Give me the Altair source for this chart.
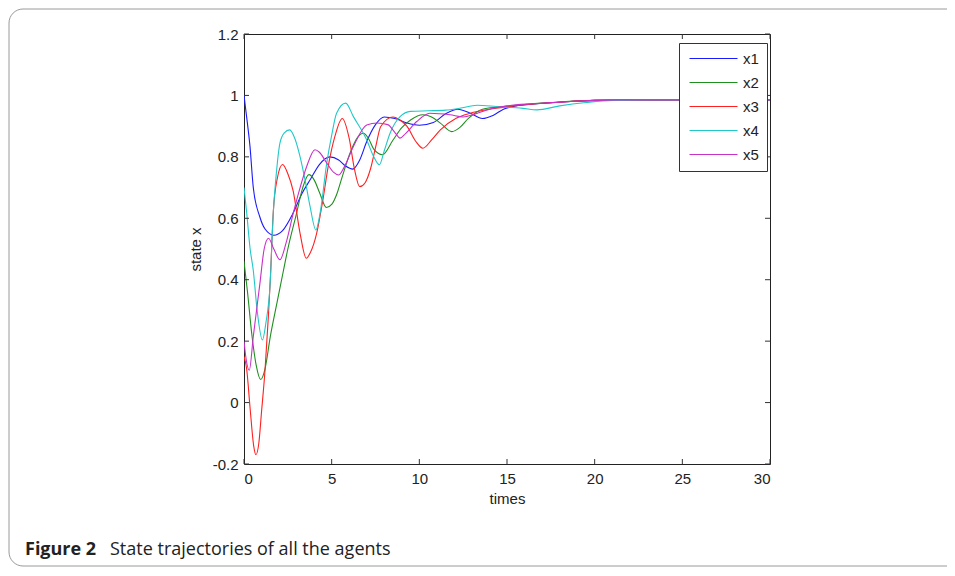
import altair as alt
import pandas as pd

series_names = ["x1", "x2", "x3", "x4", "x5"]
series_colors = ["#1a1aff", "#1f8f1f", "#ff2020", "#20c8c8", "#c830c8"]

t_x1 = [0, 0.15, 0.34, 0.53, 0.9, 1.2, 1.7, 2.2, 2.8, 3.3, 3.8, 4.3, 4.9, 5.4, 5.8, 6.2, 6.6, 7.0, 7.5, 8.0, 8.6, 9.3, 10.0, 10.8, 11.5, 12.2, 12.9, 13.6, 14.2, 14.8, 15.5, 16.5, 18, 20, 22, 30]
v_x1 = [1.0, 0.93, 0.835, 0.70, 0.605, 0.565, 0.545, 0.56, 0.617, 0.68, 0.728, 0.775, 0.80, 0.79, 0.77, 0.76, 0.79, 0.85, 0.905, 0.93, 0.925, 0.91, 0.903, 0.912, 0.94, 0.955, 0.942, 0.925, 0.935, 0.955, 0.966, 0.972, 0.978, 0.984, 0.985, 0.985]

t_x2 = [0, 0.2, 0.45, 0.7, 0.95, 1.2, 1.5, 1.9, 2.25, 2.5, 3.0, 3.35, 3.7, 4.0, 4.3, 4.7, 5.0, 5.3, 5.6, 6.1, 6.5, 6.8, 7.1, 7.4, 7.9, 8.5, 9.0, 9.5, 10.2, 10.7, 11.2, 11.85, 12.3, 12.8, 13.6, 14.5, 15.5, 17, 19, 21, 30]
v_x2 = [0.46, 0.36, 0.22, 0.12, 0.075, 0.11, 0.215, 0.33, 0.43, 0.50, 0.617, 0.70, 0.742, 0.725, 0.685, 0.635, 0.645, 0.68, 0.735, 0.82, 0.865, 0.877, 0.86, 0.825, 0.807, 0.855, 0.895, 0.92, 0.937, 0.93, 0.91, 0.882, 0.895, 0.925, 0.955, 0.962, 0.968, 0.975, 0.982, 0.985, 0.985]

t_x3 = [0, 0.15, 0.35, 0.55, 0.68, 0.85, 1.0, 1.2, 1.39, 1.5, 1.67, 1.9, 2.2, 2.5, 2.8, 3.2, 3.55, 3.8, 4.14, 4.5, 4.8, 5.2, 5.6, 6.0, 6.3, 6.6, 6.9, 7.2, 7.5, 7.8, 8.5, 8.9, 9.3, 9.8, 10.2, 10.7, 11.2, 12.1, 12.9, 14, 15, 16.5, 18, 20, 22, 30]
v_x3 = [0.15, 0.11, -0.02, -0.14, -0.17, -0.13, -0.03, 0.106, 0.28, 0.40, 0.62, 0.73, 0.775, 0.745, 0.69, 0.55, 0.47, 0.49, 0.55, 0.66, 0.768, 0.87, 0.925, 0.86, 0.76, 0.703, 0.715, 0.758, 0.83, 0.899, 0.93, 0.92, 0.899, 0.85, 0.828, 0.855, 0.888, 0.926, 0.942, 0.955, 0.963, 0.972, 0.978, 0.984, 0.985, 0.985]

t_x4 = [0, 0.15, 0.35, 0.53, 0.75, 1.05, 1.25, 1.48, 1.67, 1.85, 2.05, 2.3, 2.6, 2.9, 3.2, 3.5, 3.77, 4.1, 4.35, 4.72, 5.0, 5.28, 5.8, 6.24, 7.0, 7.4, 7.72, 8.0, 8.33, 8.9, 9.5, 10.5, 11.5, 12.3, 13.3, 14.4, 15.9, 16.7, 18, 19.5, 21, 23, 30]
v_x4 = [0.70, 0.62, 0.50, 0.43, 0.30, 0.204, 0.26, 0.377, 0.617, 0.75, 0.845, 0.878, 0.888, 0.86, 0.80, 0.72, 0.638, 0.562, 0.62, 0.78, 0.87, 0.942, 0.975, 0.931, 0.855, 0.80, 0.774, 0.82, 0.877, 0.931, 0.948, 0.95, 0.952, 0.958, 0.968, 0.964, 0.958, 0.953, 0.966, 0.977, 0.984, 0.985, 0.985]

t_x5 = [0, 0.1, 0.3, 0.53, 0.91, 1.15, 1.4, 1.7, 2.05, 2.4, 2.81, 3.2, 3.57, 4.05, 4.3, 4.72, 5.1, 5.4, 5.7, 6.24, 7.0, 7.6, 8.2, 8.6, 8.9, 9.2, 9.85, 10.6, 11.75, 12.5, 13.2, 14.2, 15, 16.5, 18, 20, 22, 30]
v_x5 = [0.20, 0.15, 0.105, 0.215, 0.389, 0.50, 0.535, 0.50, 0.465, 0.52, 0.617, 0.70, 0.768, 0.823, 0.815, 0.78, 0.75, 0.741, 0.765, 0.834, 0.904, 0.91, 0.905, 0.88, 0.861, 0.875, 0.915, 0.942, 0.937, 0.93, 0.94, 0.958, 0.966, 0.973, 0.978, 0.984, 0.985, 0.985]

x_ticks = [0, 5, 10, 15, 20, 25, 30]
y_ticks = [-0.2, 0, 0.2, 0.4, 0.6, 0.8, 1.0, 1.2]

caption_bold = "Figure 2"
caption_text = "State trajectories of all the agents"

rows = []
for name, ts, vs in zip(series_names, [t_x1, t_x2, t_x3, t_x4, t_x5],
                        [v_x1, v_x2, v_x3, v_x4, v_x5]):
    for t, v in zip(ts, vs):
        rows.append({"series": name, "t": t, "v": v})
df = pd.DataFrame(rows)

W, H = 526, 430
xs = alt.Scale(domain=[0, 30], nice=False, zero=False)
ys = alt.Scale(domain=[-0.2, 1.2], nice=False, zero=False)

x_axis = alt.Axis(values=x_ticks, title="times", labelPadding=7, titlePadding=5)
y_axis = alt.Axis(values=y_ticks, title="state x", labelPadding=6, titlePadding=9,
                  labelExpr="datum.value < 0 ? '-' + format(-datum.value, '.1~f') : format(datum.value, '.1~f')")

lines = alt.Chart(df).mark_line(strokeWidth=1.1, interpolate="monotone", clip=True).encode(
    x=alt.X("t:Q", scale=xs, axis=x_axis),
    y=alt.Y("v:Q", scale=ys, axis=y_axis),
    stroke=alt.Stroke("series:N", scale=alt.Scale(domain=series_names, range=series_colors),
                      legend=alt.Legend(title=None, orient="none", legendX=435, legendY=9,
                                        symbolType="M-4.8,0H4.8", symbolSize=100, symbolStrokeWidth=1.2,
                                        symbolOffset=19, symbolFillColor="transparent",
                                        labelFont="Liberation Sans", labelFontSize=15, labelColor="#222",
                                        fillColor="white", strokeColor="#333", padding=8,
                                        rowPadding=8, labelOffset=22)),
)

xt_df = pd.DataFrame({"t": x_ticks})
yt_df = pd.DataFrame({"v": y_ticks})
tick_color = "#333"
xtick_b = alt.Chart(xt_df).mark_rule(color=tick_color).encode(
    x=alt.X("t:Q", scale=xs, axis=x_axis), y=alt.value(H), y2=alt.value(H - 5))
xtick_t = alt.Chart(xt_df).mark_rule(color=tick_color).encode(
    x=alt.X("t:Q", scale=xs, axis=x_axis), y=alt.value(0), y2=alt.value(5))
ytick_l = alt.Chart(yt_df).mark_rule(color=tick_color).encode(
    y=alt.Y("v:Q", scale=ys, axis=y_axis), x=alt.value(0), x2=alt.value(5))
ytick_r = alt.Chart(yt_df).mark_rule(color=tick_color).encode(
    y=alt.Y("v:Q", scale=ys, axis=y_axis), x=alt.value(W - 5), x2=alt.value(W))

one = alt.Data(values=[{"k": 1}])
frame = alt.Chart(one).mark_rect(fillOpacity=0, stroke="#9a9a9a", strokeWidth=1, cornerRadius=14).encode(
    x=alt.value(-235), x2=alt.value(W + 300), y=alt.value(-25), y2=alt.value(532))
cap1 = alt.Chart(one).mark_text(text=caption_bold, font="Open Sans", fontSize=18, fontWeight="bold",
                                align="left", baseline="alphabetic", color="#222").encode(
    x=alt.value(-219), y=alt.value(521))
cap2 = alt.Chart(one).mark_text(text=caption_text, font="Open Sans", fontSize=18,
                                align="left", baseline="alphabetic", color="#222").encode(
    x=alt.value(-134), y=alt.value(521))

chart = alt.layer(frame, lines, xtick_b, xtick_t, ytick_l, ytick_r, cap1, cap2).properties(
    width=W, height=H,
    padding={"left": 236, "top": 26, "right": 177, "bottom": 104},
    autosize=alt.AutoSizeParams(type="none"),
).configure_view(stroke="#222", strokeWidth=1).configure_axis(
    grid=False, ticks=False, domain=False,
    labelFont="Liberation Sans", labelFontSize=15, labelColor="#222",
    titleFont="Liberation Sans", titleFontSize=15, titleFontWeight="normal", titleColor="#222",
)

chart.save("out.html", embed_options={"renderer": "svg", "actions": False})
